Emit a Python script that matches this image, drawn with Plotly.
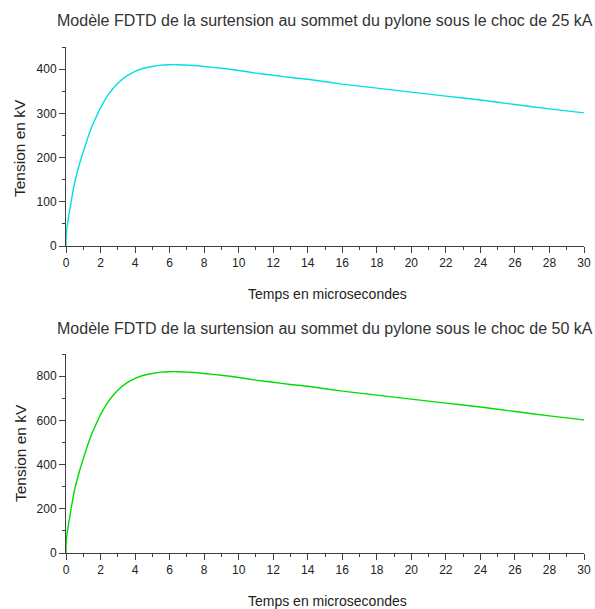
import plotly.graph_objects as go
from plotly.subplots import make_subplots

# ---- data ----
t_us = [0, 0.02, 0.15, 0.25, 0.35, 0.5, 0.75, 1, 1.25, 1.5, 1.75, 2, 2.5, 3, 3.5, 4, 4.5, 5,
        5.5, 6, 6.5, 7, 7.5, 8, 9, 10, 11, 12, 13, 14, 16, 18, 20, 22, 24, 26, 28, 30]
v_25kA = [0, 30, 66, 89, 112, 143, 181, 213, 243, 270, 292, 313, 345, 368, 384, 395, 402, 406,
          409, 410, 410, 409, 408, 406, 402, 397, 391, 386, 381, 377, 366, 357, 348,
          339, 330, 320, 310, 301]
v_50kA = [0, 60, 132, 178, 224, 286, 362, 426, 486, 540, 584, 626, 690, 736, 768, 790, 804, 812,
          818, 820, 820, 818, 816, 812, 804, 794, 782, 772, 762, 754, 732, 714, 696,
          678, 660, 640, 620, 602]

titles = ["Modèle FDTD de la surtension au sommet du pylone sous le choc de 25 kA",
          "Modèle FDTD de la surtension au sommet du pylone sous le choc de 50 kA"]
x_title = "Temps en microsecondes"
y_title = "Tension en kV"
x_ticks = list(range(0, 31, 2))

W, H = 595, 609
ML, MR, MT, MB = 66, 11, 47, 56
PW, PH = W - ML - MR, H - MT - MB

def px(x):
    return (x - ML) / PW

def py(y):
    return (H - MB - y) / PH

fig = make_subplots(rows=2, cols=1)
fig.add_trace(go.Scatter(x=t_us, y=v_25kA, mode="lines",
                         line=dict(color="#00e0e0", width=1.4, shape="spline", smoothing=0.6)),
              row=1, col=1)
fig.add_trace(go.Scatter(x=t_us, y=v_50kA, mode="lines",
                         line=dict(color="#00dd00", width=1.4, shape="spline", smoothing=0.6)),
              row=2, col=1)

axis_common = dict(showline=True, linecolor="#404040", linewidth=1,
                   ticks="outside", ticklen=6, tickcolor="#404040",
                   showgrid=False, zeroline=False, automargin=False,
                   tickfont=dict(family="Liberation Sans", size=12, color="#222"))

top_dom = [1 - 199 / PH, 1]
bot_dom = [0, 199 / PH]

fig.update_layout(
    width=W, height=H, margin=dict(l=ML, r=MR, t=MT, b=MB, autoexpand=False),
    plot_bgcolor="white", paper_bgcolor="white", showlegend=False,
    xaxis=dict(axis_common, range=[0, 30], tickvals=x_ticks, domain=[0, 1],
               minor=dict(ticks="outside", ticklen=3, dtick=1, tickcolor="#404040")),
    yaxis=dict(axis_common, range=[0, 450], dtick=100, domain=top_dom,
               minor=dict(ticks="outside", ticklen=3, dtick=50, tickcolor="#404040")),
    xaxis2=dict(axis_common, range=[0, 30], tickvals=x_ticks, domain=[0, 1],
                minor=dict(ticks="outside", ticklen=3, dtick=1, tickcolor="#404040")),
    yaxis2=dict(axis_common, range=[0, 900], dtick=200, domain=bot_dom,
                minor=dict(ticks="outside", ticklen=3, dtick=100, tickcolor="#404040")),
)

tfont = dict(family="Liberation Sans", size=16, color="#333")
afont = dict(family="Liberation Sans", size=14, color="#222")
yfont = dict(family="Liberation Sans", size=15.5, color="#222")
ann = []
for i, (ty, xy, yy) in enumerate([(20, 294, 148), (328, 601, 453)]):
    ann.append(dict(text=titles[i], x=px(325), y=py(ty), xref="paper", yref="paper",
                    showarrow=False, font=tfont, xanchor="center", yanchor="middle"))
    ann.append(dict(text=x_title, x=px(327), y=py(xy), xref="paper", yref="paper",
                    showarrow=False, font=afont, xanchor="center", yanchor="middle"))
    ann.append(dict(text=y_title, x=px(20), y=py(yy), xref="paper", yref="paper",
                    showarrow=False, font=yfont, textangle=-90,
                    xanchor="center", yanchor="middle"))
fig.update_layout(annotations=ann)

fig.write_html("out.html")
